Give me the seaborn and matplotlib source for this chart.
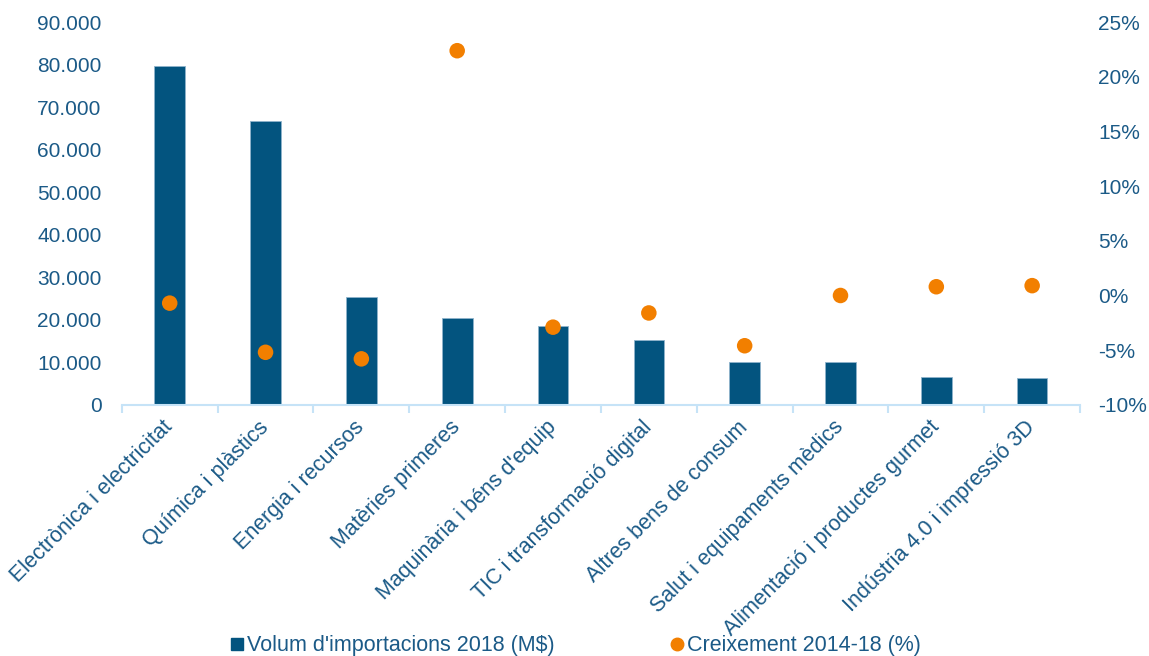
import numpy as np
import pandas as pd
import seaborn as sns
import matplotlib.pyplot as plt
from matplotlib.ticker import FuncFormatter, FixedLocator
from matplotlib.lines import Line2D

sectors = ["Electrònica i electricitat", "Química i plàstics", "Energia i recursos",
           "Matèries primeres", "Maquinària i béns d'equip", "TIC i transformació digital",
           "Altres bens de consum", "Salut i equipaments mèdics",
           "Alimentació i productes gurmet", "Indústria 4.0 i impressió 3D"]
imports_2018 = [79800, 66700, 25300, 20400, 18500, 15200, 10100, 10000, 6500, 6300]
growth_1418 = [-0.7, -5.2, -5.8, 22.4, -2.9, -1.6, -4.6, 0.0, 0.8, 0.9]

bar_col = '#03547f'
dot_col = '#f27f00'
txt_col = '#1b5a87'
axis_col = '#c6e3f7'
fs = 15.5

sns.set_theme(style='white')
plt.rcParams['font.family'] = ['Liberation Sans', 'DejaVu Sans']

df = pd.DataFrame({'sector': sectors, 'imports': imports_2018, 'growth': growth_1418})

fig = plt.figure(figsize=(11.49, 6.56), dpi=100)
ax = fig.add_axes([0.106, 0.383, 0.834, 0.583])
sns.barplot(data=df, x='sector', y='imports', color=bar_col, width=0.32,
            saturation=1, ax=ax, edgecolor='#8fb3cc', linewidth=0.6)
ax.set_ylim(0, 90000)
ax.set_xlim(-0.5, 9.5)
ax.set_yticks(np.arange(0, 90001, 10000))
ax.yaxis.set_major_formatter(FuncFormatter(lambda v, p: f'{int(v):,}'.replace(',', '.')))
ax.set_xlabel('')
ax.set_ylabel('')

ax2 = ax.twinx()
sns.scatterplot(data=df, x='sector', y='growth', color=dot_col, s=125,
                edgecolor='none', ax=ax2, zorder=5)
ax2.set_ylim(-10, 25)
ax2.set_yticks(np.arange(-10, 26, 5))
ax2.yaxis.set_major_formatter(FuncFormatter(lambda v, p: f'{int(v)}%'))
ax2.set_ylabel('')
ax2.set_xlim(-0.5, 9.5)

for a in (ax, ax2):
    for s in a.spines.values():
        s.set_visible(False)
    a.tick_params(axis='y', length=0, labelsize=15, labelcolor=txt_col)
ax.tick_params(axis='y', pad=14.5)
ax2.tick_params(axis='y', pad=13)

ax.spines['bottom'].set_visible(True)
ax.spines['bottom'].set_color(axis_col)
ax.spines['bottom'].set_linewidth(1.5)
ax.set_xticks(range(len(sectors)))
ax.xaxis.set_minor_locator(FixedLocator(np.arange(-0.5, 10, 1)))
ax.tick_params(axis='x', which='major', length=0, pad=14)
ax.tick_params(axis='x', which='minor', bottom=True, length=6, width=1.5,
               color=axis_col, direction='out')
ax.set_xticklabels(sectors, rotation=45, ha='right', va='center', rotation_mode='anchor',
                   fontsize=fs, color=txt_col)
ax2.tick_params(axis='x', which='both', length=0, labelbottom=False)

handles = [Line2D([], [], marker='s', color=bar_col, linestyle='none', markersize=9),
           Line2D([], [], marker='o', color=dot_col, linestyle='none', markersize=9)]
leg = fig.legend(handles, ["Volum d'importacions 2018 (M$)", 'Creixement 2014-18 (%)'],
                 loc='lower center', bbox_to_anchor=(0.5, -0.03), ncol=2, frameon=False,
                 fontsize=fs, handletextpad=0.05, columnspacing=5.3, handlelength=0.8)
for t in leg.get_texts():
    t.set_color(txt_col)

fig.savefig('out.png', dpi=100)
